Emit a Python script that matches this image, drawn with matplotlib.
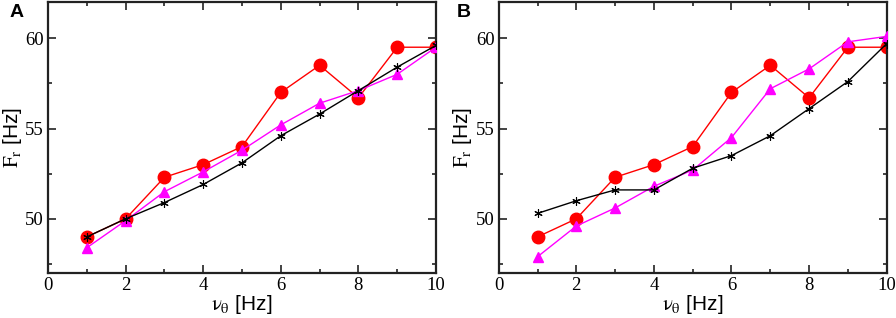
import matplotlib
matplotlib.use('Agg')
import matplotlib.pyplot as plt
from matplotlib.ticker import MultipleLocator

plt.rcParams['mathtext.fontset'] = 'stix'

nu = [1, 2, 3, 4, 5, 6, 7, 8, 9, 10]

# panel A
red_a = [49.0, 50.0, 52.3, 53.0, 54.0, 57.0, 58.5, 56.7, 59.5, 59.5]
mag_a = [48.4, 49.9, 51.5, 52.6, 53.8, 55.2, 56.4, 57.1, 58.0, 59.5]
blk_a = [49.0, 50.0, 50.9, 51.9, 53.1, 54.6, 55.8, 57.1, 58.4, 59.6]

# panel B
red_b = [49.0, 50.0, 52.3, 53.0, 54.0, 57.0, 58.5, 56.7, 59.5, 59.5]
mag_b = [47.9, 49.6, 50.6, 51.8, 52.7, 54.5, 57.2, 58.3, 59.8, 60.1]
blk_b = [50.3, 51.0, 51.6, 51.6, 52.8, 53.5, 54.6, 56.1, 57.6, 59.7]

fig = plt.figure(figsize=(8.96, 3.18), dpi=100)
ax_a = fig.add_axes([0.0536, 0.1415, 0.433, 0.852])
ax_b = fig.add_axes([0.5566, 0.1415, 0.433, 0.852])

def draw(ax, red, mag, blk, letter, lx):
    ax.plot(nu, red, color='#ff0000', lw=1.0, marker='o', ms=9, zorder=2)
    ax.plot(nu, mag, color='#ff00ff', lw=1.0, marker='^', ms=6.5, zorder=3)
    ax.plot(nu, blk, color='black', lw=1.0, marker=(6, 2, 0), ms=6,
            mew=0.8, zorder=4)
    ax.set_xlim(0, 10)
    ax.set_ylim(47, 62)
    ax.xaxis.set_major_locator(MultipleLocator(2))
    ax.xaxis.set_minor_locator(MultipleLocator(1))
    ax.yaxis.set_major_locator(MultipleLocator(5))
    ax.yaxis.set_minor_locator(MultipleLocator(2.5))
    ax.tick_params(which='both', direction='in', top=True, right=True,
                   width=1.2, color='#222222', pad=3)
    ax.tick_params(which='major', length=6)
    ax.tick_params(which='minor', length=3)
    for lab in ax.get_xticklabels() + ax.get_yticklabels():
        lab.set_fontfamily('Liberation Serif')
        lab.set_fontsize(13.5)
    for s in ax.spines.values():
        s.set_linewidth(1.6)
        s.set_color('#222222')
    ax.set_xlabel(r'$\mathrm{\nu_\theta}$ [Hz]', fontsize=15,
                  family='Liberation Sans', labelpad=-1)
    ax.set_ylabel(r'$\mathrm{F_r}$ [Hz]', fontsize=15,
                  family='Liberation Sans', labelpad=1)
    fig.text(lx, 0.962, letter, fontsize=14, fontweight='bold',
             family='Liberation Sans', va='center', ha='center')

draw(ax_a, red_a, mag_a, blk_a, 'A', 0.018)
draw(ax_b, red_b, mag_b, blk_b, 'B', 0.518)

fig.savefig('out.png', dpi=100)
